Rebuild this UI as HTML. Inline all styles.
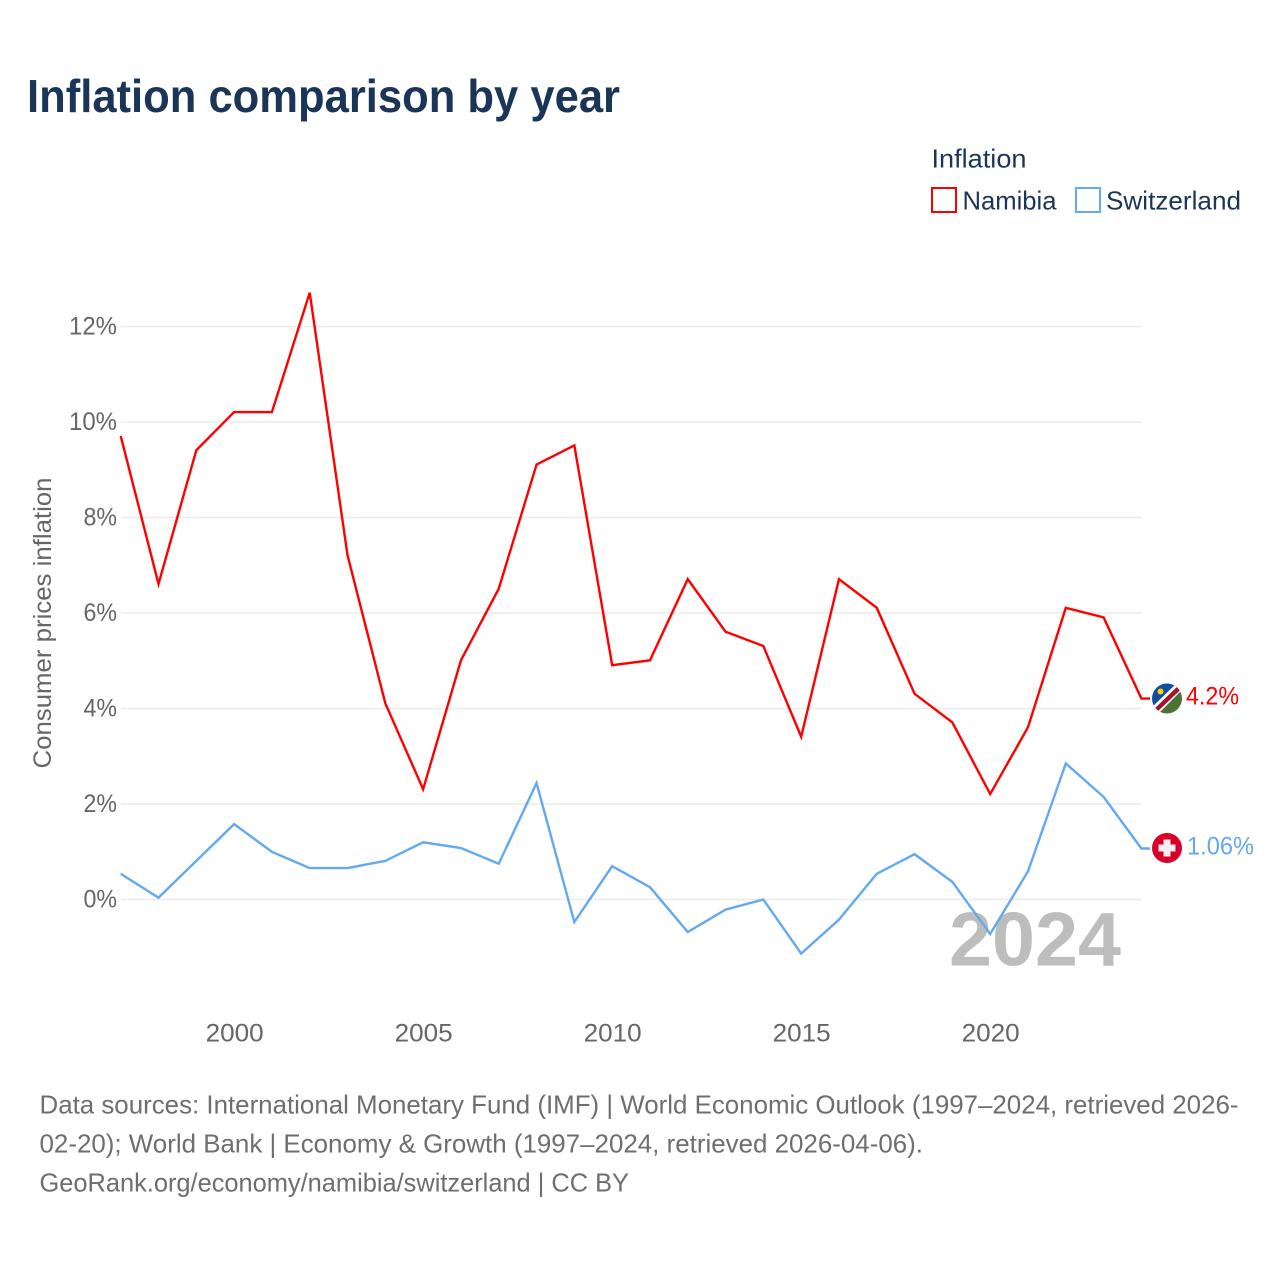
<!DOCTYPE html>
<html lang="en">
<head>
<meta charset="utf-8">
<title>Inflation comparison by year</title>
<style>
html,body{margin:0;padding:0;background:#fff;width:1280px;height:1280px;overflow:hidden}
svg{display:block;font-family:"Liberation Sans",sans-serif}
</style>
</head>
<body>
<svg id="chart" width="1280" height="1280" viewBox="0 0 1280 1280" xmlns="http://www.w3.org/2000/svg">
  <defs>
    <clipPath id="na-clip"><circle cx="1167" cy="698.5" r="15"/></clipPath>
    <clipPath id="ch-clip"><circle cx="1167" cy="848" r="15"/></clipPath>
  </defs>
  <rect width="1280" height="1280" fill="#ffffff"/>
  <text x="27" y="112" font-size="46" font-weight="700" fill="#1a3557" textLength="593" lengthAdjust="spacingAndGlyphs">Inflation comparison by year</text>

  <g>
    <text x="931.5" y="167.5" font-size="26" fill="#1a3557" textLength="95" lengthAdjust="spacingAndGlyphs">Inflation</text>
    <rect x="932" y="188" width="24" height="24" fill="none" stroke="#ff0000" stroke-width="2"/>
    <text x="962.5" y="209.5" font-size="26" fill="#1a3557" textLength="94" lengthAdjust="spacingAndGlyphs">Namibia</text>
    <rect x="1076" y="188" width="24" height="24" fill="none" stroke="#63a9ef" stroke-width="2"/>
    <text x="1106" y="209.5" font-size="26" fill="#1a3557" textLength="135" lengthAdjust="spacingAndGlyphs">Switzerland</text>
  </g>

  <g id="grid"></g>
  <g id="y-axis"></g>
  <g id="x-axis"></g>
  <text transform="translate(51,623) rotate(-90)" text-anchor="middle" font-size="25" fill="#666666" textLength="291" lengthAdjust="spacingAndGlyphs">Consumer prices inflation</text>
  <text x="949" y="965.5" font-size="76" font-weight="700" fill="#bdbdbd" textLength="172" lengthAdjust="spacingAndGlyphs">2024</text>

  <g id="series"></g>

  <g clip-path="url(#na-clip)">
    <rect x="1150" y="682" width="34" height="34" fill="#ffffff"/>
    <polygon points="1150,682 1182,682 1150,711" fill="#0b4ea2"/>
    <polygon points="1184,716 1152,716 1184,688" fill="#4d7034"/>
    <polygon points="1150,709 1180,680 1186,686 1156,716" fill="#ffffff"/>
    <polygon points="1152,711 1181,683 1183.5,687 1155,714" fill="#a6122d"/>
    <circle cx="1160.5" cy="691.5" r="3" fill="#ffce00"/>
  </g>
  <g clip-path="url(#ch-clip)">
    <rect x="1150" y="831" width="34" height="34" fill="#d80027"/>
    <rect x="1163.5" y="839.5" width="7" height="17" fill="#f0f0f0"/>
    <rect x="1158.5" y="844.5" width="17" height="7" fill="#f0f0f0"/>
  </g>
  <text id="label-na" x="1186" y="704.5" font-size="25" fill="#ff0000" textLength="53" lengthAdjust="spacingAndGlyphs"></text>
  <text id="label-ch" x="1187" y="854.5" font-size="25" fill="#63a9ef" textLength="67" lengthAdjust="spacingAndGlyphs"></text>

  <g font-size="26" fill="#6e6e6e">
    <text x="39.5" y="1113.5" textLength="1199" lengthAdjust="spacingAndGlyphs">Data sources: International Monetary Fund (IMF) | World Economic Outlook (1997–2024, retrieved 2026-</text>
    <text x="39.5" y="1152.5" textLength="883.5" lengthAdjust="spacingAndGlyphs">02-20); World Bank | Economy &amp; Growth (1997–2024, retrieved 2026-04-06).</text>
    <text x="39.5" y="1191.5" textLength="589.5" lengthAdjust="spacingAndGlyphs">GeoRank.org/economy/namibia/switzerland | CC BY</text>
  </g>
</svg>
<script>
const years = [1997,1998,1999,2000,2001,2002,2003,2004,2005,2006,2007,2008,2009,2010,2011,2012,2013,2014,2015,2016,2017,2018,2019,2020,2021,2022,2023,2024];
const namibia = [9.7,6.6,9.4,10.2,10.2,12.7,7.2,4.1,2.3,5.0,6.5,9.1,9.5,4.9,5.0,6.7,5.6,5.3,3.4,6.7,6.1,4.3,3.7,2.2,3.6,6.1,5.9,4.2];
const switzerland = [0.53,0.03,0.8,1.57,0.99,0.65,0.65,0.8,1.19,1.07,0.74,2.43,-0.48,0.69,0.25,-0.69,-0.22,-0.01,-1.14,-0.43,0.53,0.94,0.36,-0.73,0.58,2.84,2.14,1.06];
const yTicks = [0,2,4,6,8,10,12];
const xTicks = [2000,2005,2010,2015,2020];

const NS = 'http://www.w3.org/2000/svg';
const xScale = function (v) { return 120.7 + (v - 1997) * (1141.4 - 120.7) / 27; };
const yScale = function (v) { return 899.1 - v * 47.75; };

function make(tag, attrs, parent, text) {
  const el = document.createElementNS(NS, tag);
  Object.keys(attrs).forEach(function (k) { el.setAttribute(k, attrs[k]); });
  if (text !== undefined) el.textContent = text;
  parent.appendChild(el);
  return el;
}

const gridG = document.getElementById('grid');
const yG = document.getElementById('y-axis');
const xG = document.getElementById('x-axis');
const seriesG = document.getElementById('series');

yTicks.forEach(function (t) {
  const line = make('line', {x1: 121, x2: 1142, y1: yScale(t) + 0.4, y2: yScale(t) + 0.4, stroke: '#ebebeb', 'stroke-width': 1.5}, gridG);
  
  
  const str = t + '%';
  const label = make('text', {x: 117, y: yScale(t) + 8.5, 'text-anchor': 'end', 'font-size': 25, fill: '#666666', textLength: (str.length - 1) * 14.5 + 19, lengthAdjust: 'spacingAndGlyphs'}, yG, str);
  
  
});

xTicks.forEach(function (t) {
  const label = make('text', {x: xScale(t) + 0.5, y: 1041.5, 'text-anchor': 'middle', 'font-size': 25, fill: '#666666', textLength: 58, lengthAdjust: 'spacingAndGlyphs'}, xG, String(t));
  
  
});

function drawSeries(values, color) {
  const pts = values.map(function (v, i) { return xScale(years[i]).toFixed(2) + ',' + yScale(v).toFixed(2); });
  const last = values[values.length - 1];
  pts.push('1150,' + yScale(last).toFixed(2));
  return make('polyline', {points: pts.join(' '), fill: 'none', stroke: color, 'stroke-width': 2.4, 'stroke-linejoin': 'miter'}, seriesG);
}

const lineNa = drawSeries(namibia, '#ff0000');


const lineCh = drawSeries(switzerland, '#63a9ef');



document.getElementById('label-na').textContent = namibia[namibia.length - 1] + '%';
document.getElementById('label-ch').textContent = switzerland[switzerland.length - 1] + '%';
</script>
</body>
</html>
